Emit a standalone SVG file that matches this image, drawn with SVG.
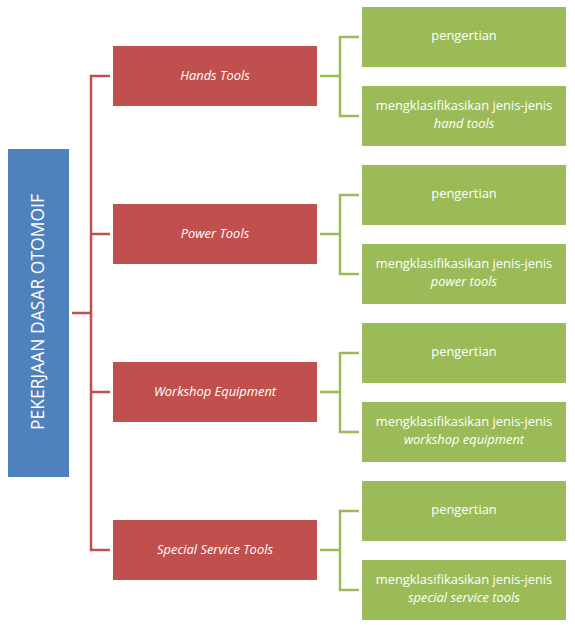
<svg xmlns="http://www.w3.org/2000/svg" width="575" height="625" viewBox="0 0 575 625">
<style>
.root{fill:#4F81BD}
.red{fill:#C0504D}
.grn{fill:#9BBB59}
text{font-family:"Open Sans","Liberation Sans",sans-serif;fill:#fff;text-anchor:middle;font-size:12.9px}
.it{font-style:italic}
.rl{stroke:#C0504D;stroke-width:2.5;fill:none}
.gl{stroke:#9BBB59;stroke-width:2.5;fill:none}
</style>
<g id="connectors">
<path class="rl" d="M72 313H91M110 76H91V550H110M91 234H110M91 392H110"/>
<path class="gl" d="M320 76H340M359 37H340V116H359"/>
<path class="gl" d="M320 234H340M359 195H340V274H359"/>
<path class="gl" d="M320 392H340M359 353H340V432H359"/>
<path class="gl" d="M320 550H340M359 511H340V590H359"/>
</g>
<g id="root"><rect class="root" x="8" y="149" width="61" height="328"/><text transform="translate(43.5 312) rotate(-90)" style="font-size:17.5px">PEKERJAAN DASAR OTOMOIF</text></g>
<g id="hands"><rect class="red" x="113" y="46" width="204" height="60"/><text class="it" x="215" y="80">Hands Tools</text></g>
<g id="power"><rect class="red" x="113" y="204" width="204" height="60"/><text class="it" x="215" y="238">Power Tools</text></g>
<g id="workshop"><rect class="red" x="113" y="362" width="204" height="60"/><text class="it" x="215" y="396">Workshop Equipment</text></g>
<g id="special"><rect class="red" x="113" y="520" width="204" height="60"/><text class="it" x="215" y="554">Special Service Tools</text></g>
<g id="hands-p"><rect class="grn" x="362" y="7" width="204" height="60"/><text x="464" y="40">pengertian</text></g>
<g id="hands-k"><rect class="grn" x="362" y="86" width="204" height="60"/><text x="464" y="110">mengklasifikasikan jenis-jenis</text><text class="it" x="464" y="127.5">hand tools</text></g>
<g id="power-p"><rect class="grn" x="362" y="165" width="204" height="60"/><text x="464" y="198">pengertian</text></g>
<g id="power-k"><rect class="grn" x="362" y="244" width="204" height="60"/><text x="464" y="268">mengklasifikasikan jenis-jenis</text><text class="it" x="464" y="285.5">power tools</text></g>
<g id="workshop-p"><rect class="grn" x="362" y="323" width="204" height="60"/><text x="464" y="356">pengertian</text></g>
<g id="workshop-k"><rect class="grn" x="362" y="402" width="204" height="60"/><text x="464" y="426">mengklasifikasikan jenis-jenis</text><text class="it" x="464" y="443.5">workshop equipment</text></g>
<g id="special-p"><rect class="grn" x="362" y="481" width="204" height="60"/><text x="464" y="514">pengertian</text></g>
<g id="special-k"><rect class="grn" x="362" y="560" width="204" height="60"/><text x="464" y="584">mengklasifikasikan jenis-jenis</text><text class="it" x="464" y="601.5">special service tools</text></g>
</svg>
